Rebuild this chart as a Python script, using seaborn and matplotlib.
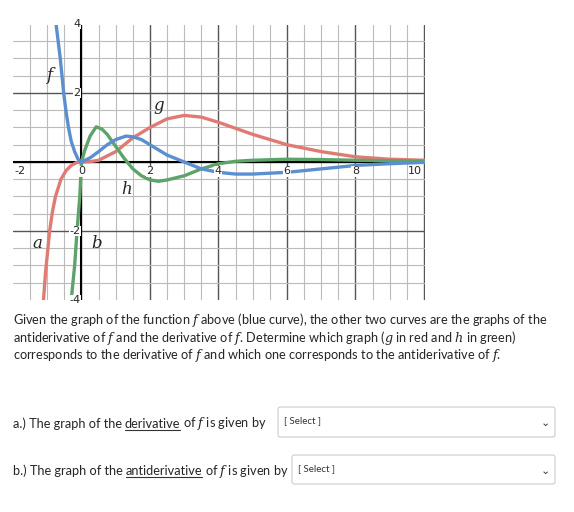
import matplotlib
matplotlib.use("Agg")
import matplotlib.pyplot as plt
import seaborn as sns
import numpy as np
import pandas as pd
from matplotlib.patches import FancyBboxPatch

sns.set_style("white")
plt.rcParams['font.family'] = ['Lato', 'DejaVu Sans']
plt.rcParams['mathtext.fontset'] = 'dejavuserif'

f_x = [-0.78, -0.62, -0.52, -0.45, -0.38, -0.3, -0.2, -0.1, 0, 0.25, 0.5, 0.75, 1, 1.3, 1.5, 1.75, 2, 2.5, 3, 3.5, 4, 4.5, 5, 6, 7, 8, 9, 10.3]
f_y = [4.3, 3.0, 2.0, 1.45, 1.0, 0.6, 0.3, 0.08, 0, 0.12, 0.3, 0.5, 0.65, 0.75, 0.73, 0.65, 0.5, 0.2, 0.0, -0.2, -0.3, -0.35, -0.35, -0.3, -0.2, -0.1, -0.05, 0.0]
g_x = [-1.14, -1.05, -0.93, -0.85, -0.76, -0.6, -0.45, -0.3, -0.15, 0, 0.25, 0.5, 1, 1.5, 2, 2.5, 3, 3.5, 4, 5, 6, 7, 8, 9, 10.3]
g_y = [-4.4, -3.2, -2.0, -1.45, -1.0, -0.5, -0.25, -0.1, -0.02, 0, 0.01, 0.05, 0.3, 0.7, 1.0, 1.25, 1.35, 1.3, 1.15, 0.8, 0.5, 0.3, 0.15, 0.08, 0.04]
h_x = [-0.39, -0.3, -0.2, -0.13, -0.05, 0, 0.1, 0.25, 0.43, 0.6, 0.75, 1, 1.25, 1.5, 1.75, 2, 2.25, 2.5, 3, 3.5, 4, 4.5, 5, 6, 7, 8, 10.3]
h_y = [-4.4, -4.0, -3.0, -2.0, -1.0, 0, 0.35, 0.75, 1.02, 0.95, 0.8, 0.45, 0.1, -0.2, -0.4, -0.52, -0.56, -0.52, -0.4, -0.2, -0.05, 0.02, 0.05, 0.08, 0.07, 0.05, 0.02]
x_ticks = [-2, 0, 2, 4, 6, 8, 10]
y_ticks = [4, 2, -2, -4]

fig = plt.figure(figsize=(5.74, 5.12), dpi=100)
ax = fig.add_axes([13/574, 1-300/512, 412/574, 275/512])
ax.set_xlim(-2, 10.03)
ax.set_ylim(-4.0, 3.97)
for v in np.arange(-1.5, 10.3, 0.5):
    ax.axvline(v, color='#555555' if v % 2 == 0 else '#bbbbbb', lw=1.0 if v % 2 == 0 else 0.8, zorder=0)
for v in np.arange(-3.5, 4.0, 0.5):
    ax.axhline(v, color='#555555' if v % 2 == 0 else '#bbbbbb', lw=1.0 if v % 2 == 0 else 0.8, zorder=0)
ax.axvline(0, color='black', lw=1.5, zorder=1)
ax.axhline(0, color='black', lw=1.5, zorder=1)
for s in ax.spines.values():
    s.set_visible(False)
ax.set_xticks([]); ax.set_yticks([])

sns.lineplot(x=g_x, y=g_y, ax=ax, color='#e07b74', lw=2.4, sort=False, zorder=3)
sns.lineplot(x=h_x, y=h_y, ax=ax, color='#5da36a', lw=2.4, sort=False, zorder=3)
sns.lineplot(x=f_x, y=f_y, ax=ax, color='#5b8fcf', lw=2.4, sort=False, zorder=4)

for t in x_ticks:
    ha = 'left' if t == -2 else ('right' if t == 10 else 'center')
    xp = t + 0.05 if t == -2 else (t - 0.05 if t == 10 else t)
    ax.text(xp, -0.12, str(t), ha=ha, va='top', fontsize=8, family='DejaVu Sans',
            bbox=dict(fc='white', ec='none', pad=0.3), zorder=5)
for t in y_ticks:
    ax.text(-0.04, t, str(t), ha='right', va='center', fontsize=8, family='DejaVu Sans', zorder=5,
            bbox=dict(fc='white', ec='none', pad=0.3))
lab = dict(fontsize=12, family='DejaVu Serif', style='italic', ha='center', va='center', zorder=6)
ax.text(-0.95, 2.5, 'f', **lab)
ax.text(2.25, 1.65, 'g', **lab)
ax.text(1.33, -0.8, 'h', **lab)
ax.text(-1.3, -2.35, 'a', **lab)
ax.text(0.43, -2.35, 'b', **lab)

fs = 9.2
fig.text(13/574, 1-320/512, "Given the graph of the function $f$ above (blue curve), the other two curves are the graphs of the", fontsize=fs, va='center')
fig.text(13/574, 1-338/512, "antiderivative of $f$ and the derivative of $f$. Determine which graph ($g$ in red and $h$ in green)", fontsize=fs, va='center')
fig.text(13/574, 1-356/512, "corresponds to the derivative of $f$ and which one corresponds to the antiderivative of $f$.", fontsize=fs, va='center')

fig.canvas.draw()
r = fig.canvas.get_renderer()

def seq(y, parts):
    x = 13
    for txt, ul in parts:
        t = fig.text(x/574, 1-y/512, txt, fontsize=fs, va='center')
        w = t.get_window_extent(r).width
        if ul:
            fig.add_artist(plt.Line2D([x/574, (x+w)/574], [1-(y+6)/512]*2, color='#333333', lw=0.8))
        x += w + 3

seq(424, [("a.) The graph of the", False), ("derivative", True), ("of $f$ is given by", False)])
seq(471, [("b.) The graph of the", False), ("antiderivative", True), ("of $f$ is given by", False)])

for (x0, y0, x1, y1, ty) in [(278, 407, 555, 437, 421), (292, 455, 555, 484, 469)]:
    fig.add_artist(FancyBboxPatch((x0/574, 1-y1/512), (x1-x0)/574, (y1-y0)/512,
                                  boxstyle='round,pad=0,rounding_size=0.004', fc='white', ec='#cccccc', lw=0.8))
    fig.text((x0+6)/574, 1-ty/512, "[ Select ]", fontsize=7, va='center', color='#333333')
    fig.text((x1-10)/574, 1-(ty+2)/512, "⌄", fontsize=8, va='center', ha='center', color='#333333', family='DejaVu Sans')

fig.savefig('out.png', dpi=100)
